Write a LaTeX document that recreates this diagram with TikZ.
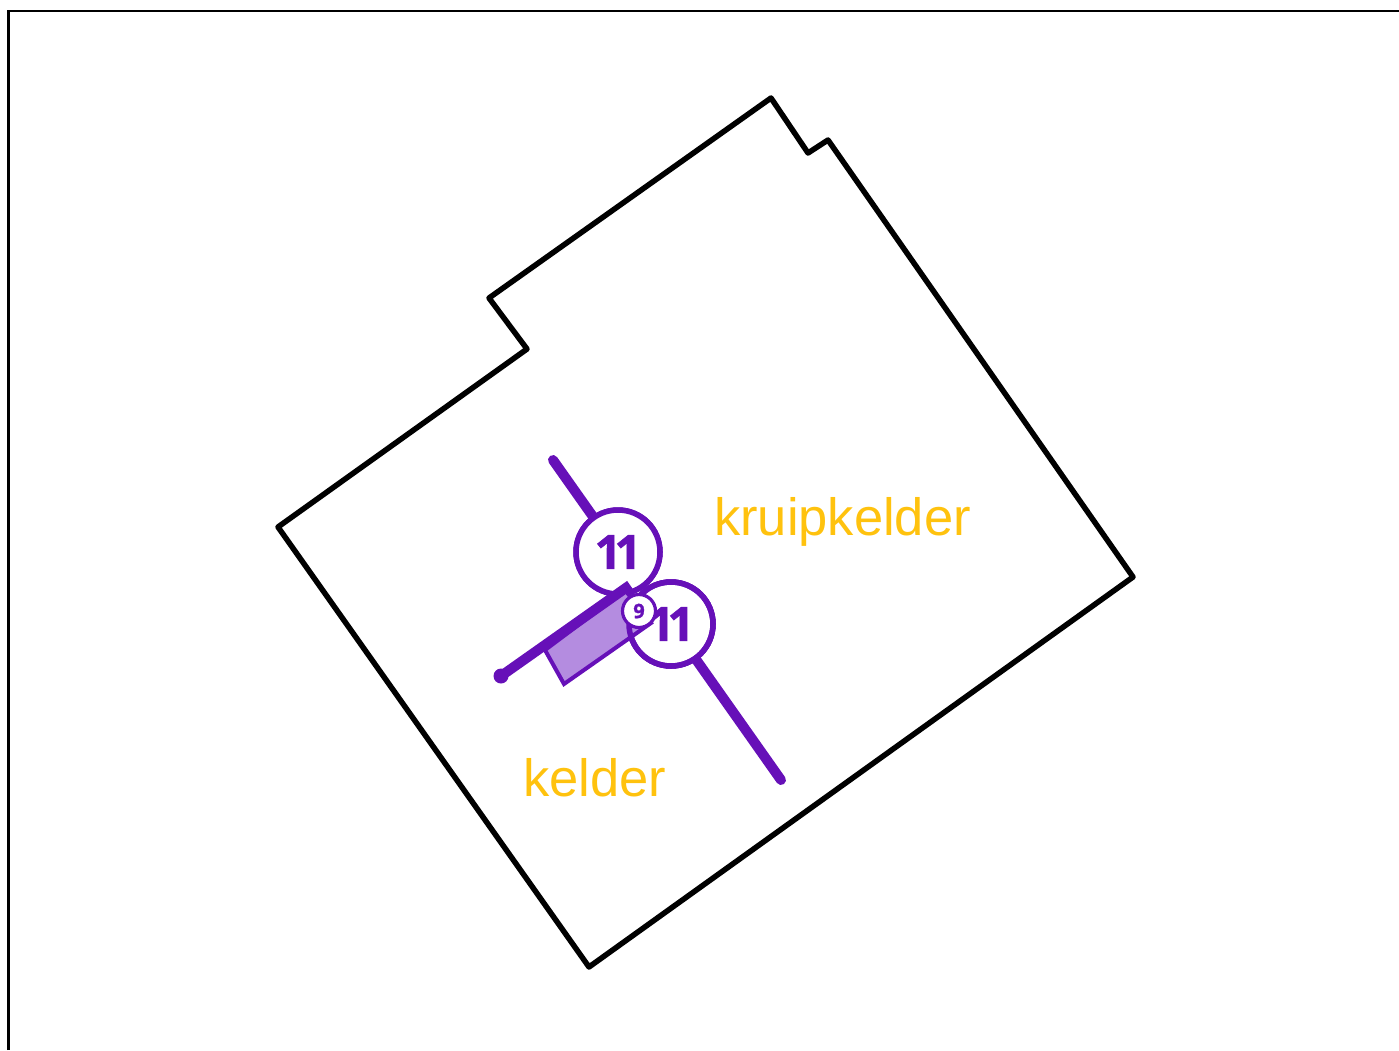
\documentclass[tikz,border=0pt]{standalone}
\usepackage{fontspec}
\setmainfont{Liberation Sans}
\newfontfamily\numfont{Open Sans}[BoldFeatures={FakeBold=1.2}]
\definecolor{paars}{HTML}{6610B8}
\definecolor{paarslicht}{HTML}{B48CE0}
\definecolor{geel}{HTML}{FFC20E}
\tikzstyle{outline} = [draw=black, line width=5.5pt, line join=round]
\tikzstyle{frame} = [draw=black, line width=2.6pt]
\tikzstyle{wall} = [draw=paars, line width=10pt, line cap=round]
\tikzstyle{room} = [text=geel, inner sep=0pt, font=\fontsize{52.5}{60}\selectfont]
\tikzstyle{bubble} = [circle, draw=paars, fill=white, line width=5.5pt, text=paars, inner sep=0pt,
  minimum size=84pt, font=\numfont\bfseries\fontsize{47}{50}\selectfont]
\tikzstyle{smallbubble} = [circle, draw=paars, fill=white, line width=3.2pt, text=paars, inner sep=0pt,
  minimum size=33pt, font=\numfont\bfseries\fontsize{20}{22}\selectfont]
\newcommand{\elf}{1\kern-7pt 1}
\begin{document}
\begin{tikzpicture}[x=1pt, y=-1pt]
    \useasboundingbox (0,0) rectangle (1399,1050);
    \coordinate (frameA) at (8.5,1050);
    \coordinate (frameB) at (8.5,11);
    \coordinate (frameC) at (1399,11);
    \draw[frame] (frameA) -- (frameB) -- (frameC);

    % plot
    \draw[outline] (771,98) -- (808,153) -- (828,140) -- (1133,577) -- (589,967)
      -- (278,527) -- (527,349) -- (489,298) -- cycle;

    % labels
    \node[room] (kruip) at (842.5,522) {kruipkelder};
    \node[room] (kelder) at (595,778) {kelder};

    \coordinate (endA) at (553,460);
    \coordinate (endB) at (781,780);
    \coordinate (wallA) at (501,676);
    \coordinate (wallB) at (630,585);

    \node[bubble] (elfA) at (618,552) {};
    \node[bubble] (elfB) at (671,624) {};
    \draw[wall] (endA) -- (elfA);
    \draw[wall] (endB) -- (elfB);
    \node[bubble] at (elfA) {\elf};
    \node[bubble] at (elfB) {};

    % part
    \draw[draw=paars, fill=paarslicht, line width=4pt, line join=miter] (545,650) -- (564,684)
      -- (651,623) -- (625,590) -- cycle;
    \draw[wall, line cap=butt] (wallA) -- (wallB);
    \fill[paars] (wallA) circle (7.5pt);
    \node[bubble, fill=none] at (elfB) {\elf};
    \node[smallbubble] (negen) at (639,611) {9};
\end{tikzpicture}
\end{document}
